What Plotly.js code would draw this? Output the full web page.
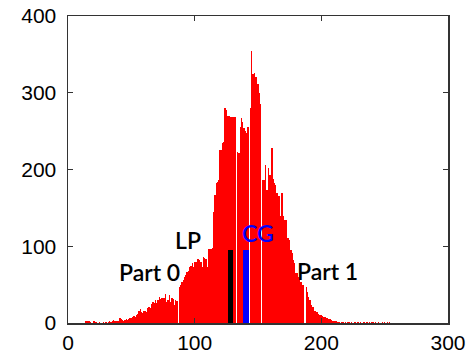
<!DOCTYPE html>
<html>
<head>
<meta charset="utf-8">
<script src="https://cdn.plot.ly/plotly-3.0.1.min.js"></script>
<style>html,body{margin:0;padding:0;background:#fff;}#chart{width:467px;height:358px;}</style>
</head>
<body>
<div id="chart"></div>
<script>
// Histogram counts for intensity levels 14..254 (levels 0..13 are empty)
const startLevel = 14;
const counts = [
  2,3,2,3,1,0,2,3,1,0,0,1,0,0,1,0,1,0,1,2, // 14-33
  1,2,4,3,3,2,3,6,5,4,3,4,5,4,5,7,6,8,9,8, // 34-53
  10,12,15,18,14,13,15,16,14,19,21,20,25,27,26,30,26,30,34,31, // 54-73
  33,32,33,38,28,30,36,28,33,31,23,30,29,0,47,50,54,56,60,62, // 74-93
  67,68,73,74,78,73,80,80,84,83,82,80,73,86,85,84,73,96,97,97, // 94-113
  98,145,167,182,184,186,225,226,234,236,280,278,270,270,269,269,268,269,268,0, // 114-133
  223,222,256,267,262,254,250,248,255,0,280,354,325,326,321,320,312,300,286,0, // 134-153
  186,186,206,173,202,193,193,228,188,182,180,170,165,165,139,170,140,134,134,111, // 154-173
  111,108,95,91,82,78,65,65,60,58,54,50,49,0,47,40,34,30,23,21, // 174-193
  21,16,14,14,12,10,10,9,8,8,7,6,5,5,4,3,2,2,2,1, // 194-213
  1,0,1,1,0,1,0,1,1,0,1,0,1,1,0,1,0,1,0,1, // 214-233
  1,0,1,0,1,0,1,1,0,1,0,1,0,0,1,0,1,0,1,0,1 // 234-254
];
const levels = counts.map((_, i) => startLevel + i);

// Markers
const lpLevel = 128.3;
const cgLevel = 140.7;
const markerHeight = 95;
const markerWidth = 4.5;

// Axis ticks
const xTicks = [0, 100, 200, 300];
const yTicks = [0, 100, 200, 300, 400];

// Labels
const labelTexts = ["LP", "CG", "Part 0", "Part 1"];
const labelX = [94.7, 150, 64.5, 205];
const labelY = [108, 117, 66, 68];
const labelColors = ["#000000", "#0000ff", "#000000", "#000000"];

const traces = [
  {type: "bar", x: levels, y: counts, width: 1, marker: {color: "#ff0000", line: {width: 0}}, hoverinfo: "x+y"},
  {type: "bar", x: [lpLevel], y: [markerHeight], width: [markerWidth], marker: {color: "#000000", line: {width: 0}}},
  {type: "bar", x: [cgLevel], y: [markerHeight], width: [markerWidth], marker: {color: "#0000ff", line: {width: 0}}}
];

const annotations = labelTexts.map((t, i) => ({
  x: labelX[i], y: labelY[i], xref: "x", yref: "y", text: t, showarrow: false,
  font: {family: "Lato, 'Open Sans', sans-serif", size: 23, color: labelColors[i], weight: 600}
}));

const axisCommon = {
  showgrid: false, zeroline: false, showline: true, linecolor: "#333333", linewidth: 1.5,
  mirror: "ticks", ticks: "inside", ticklen: 5, tickcolor: "#333333", tickwidth: 1.2,
  tickfont: {family: "'Liberation Sans', Arial, sans-serif", size: 21, color: "#000000"}
};

const layout = {
  width: 467, height: 358,
  margin: {l: 68, r: 19, t: 16, b: 35},
  paper_bgcolor: "#ffffff", plot_bgcolor: "#ffffff",
  showlegend: false, barmode: "overlay", bargap: 0,
  xaxis: Object.assign({}, axisCommon, {range: [0, 300], tickvals: xTicks, ticktext: xTicks.map(String), ticklabelstandoff: 0}),
  yaxis: Object.assign({}, axisCommon, {range: [0, 400], tickvals: yTicks, ticktext: yTicks.map(String), ticklabelstandoff: 6}),
  annotations: annotations
};

Plotly.newPlot("chart", traces, layout, {staticPlot: true, displayModeBar: false});
</script>
</body>
</html>
